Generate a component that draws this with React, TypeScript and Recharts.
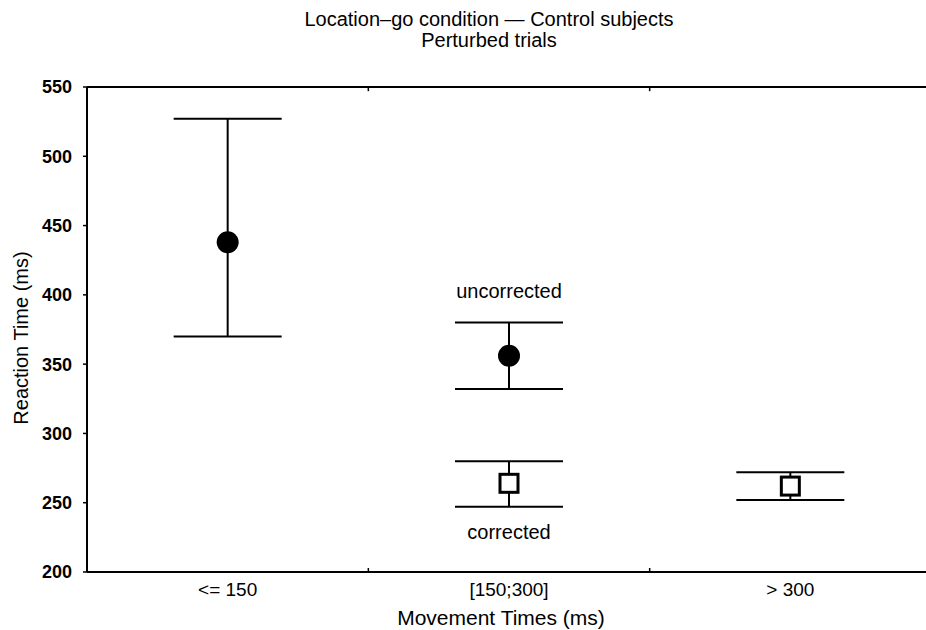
import {
  ComposedChart,
  Scatter,
  XAxis,
  YAxis,
  ErrorBar,
  ReferenceDot,
  ReferenceLine,
} from "recharts";

// movement time bins on the x axis
const categories = ["<= 150", "[150;300]", "> 300"];
const yTicks = [200, 250, 300, 350, 400, 450, 500, 550];

// uncorrected trials (filled circles)
const uncorrectedBins = [0, 1];
const uncorrectedMean = [438, 356];
const uncorrectedLow = [370, 332];
const uncorrectedHigh = [527, 380];

// corrected trials (open squares)
const correctedBins = [1, 2];
const correctedMean = [264, 262];
const correctedLow = [247, 252];
const correctedHigh = [280, 272];

const font = "'Liberation Sans', Arial, Helvetica, sans-serif";

function rows(bins: number[], mean: number[], low: number[], high: number[]) {
  return bins.map((b, i) => ({
    x: b + 0.5,
    y: mean[i],
    err: [mean[i] - low[i], high[i] - mean[i]],
  }));
}

const uncorrected = rows(uncorrectedBins, uncorrectedMean, uncorrectedLow, uncorrectedHigh);
const corrected = rows(correctedBins, correctedMean, correctedLow, correctedHigh);

function XTick({ x, y, payload }: any) {
  const v = payload.value;
  if (Number.isInteger(v)) {
    return <line x1={x} x2={x} y1={y} y2={y - 4} stroke="#000" strokeWidth={1.5} />;
  }
  return (
    <text x={x} y={y + 24} textAnchor="middle" fontSize={19} fill="#000">
      {categories[Math.floor(v)]}
    </text>
  );
}

const Circle = ({ cx, cy }: any) => <circle cx={cx} cy={cy} r={11} fill="#000" />;
const Square = ({ cx, cy }: any) => (
  <rect x={cx - 9} y={cy - 9} width={18} height={18} fill="#fff" stroke="#000" strokeWidth={3} />
);
const Nothing = () => <g />;

export default function App() {
  return (
    <div
      style={{
        position: "fixed",
        left: 0,
        top: 0,
        width: 926,
        height: 630,
        overflow: "hidden",
        background: "#fff",
        fontFamily: font,
        color: "#000",
      }}
    >
      <div
        style={{
          position: "absolute",
          left: 0,
          top: 9,
          width: 978,
          textAlign: "center",
          fontSize: 20,
          lineHeight: "21px",
        }}
      >
        Location–go condition — Control subjects
        <br />
        Perturbed trials
      </div>

      <ComposedChart
        width={940}
        height={630}
        margin={{ top: 87, right: 9, bottom: 0, left: 0 }}
      >
        <XAxis
          dataKey="x"
          type="number"
          domain={[0, 3]}
          ticks={[0.5, 1, 1.5, 2, 2.5]}
          height={58}
          tickSize={0}
          tickMargin={0}
          tick={<XTick />}
          tickLine={false}
          axisLine={{ stroke: "#000", strokeWidth: 2 }}
        />
        <YAxis
          dataKey="y"
          type="number"
          domain={[200, 550]}
          ticks={yTicks}
          width={87}
          tickSize={4}
          tickMargin={11}
          tick={{ fill: "#000", fontSize: 18, fontWeight: 700 }}
          tickLine={{ stroke: "#000", strokeWidth: 1.5 }}
          axisLine={{ stroke: "#000", strokeWidth: 2 }}
        />

        {/* top frame line with the small bin separators */}
        <ReferenceLine y={550} stroke="#000" strokeWidth={2} ifOverflow="visible" />
        <ReferenceLine
          segment={[{ x: 1, y: 550 }, { x: 1, y: 547 }]}
          stroke="#000"
          strokeWidth={1.5}
        />
        <ReferenceLine
          segment={[{ x: 2, y: 550 }, { x: 2, y: 547 }]}
          stroke="#000"
          strokeWidth={1.5}
        />

        {/* error bars first so the markers sit on top */}
        <Scatter data={uncorrected} shape={<Nothing />} isAnimationActive={false}>
          <ErrorBar dataKey="err" direction="y" width={54} stroke="#000" strokeWidth={2} isAnimationActive={false} />
        </Scatter>
        <Scatter data={corrected} shape={<Nothing />} isAnimationActive={false}>
          <ErrorBar dataKey="err" direction="y" width={54} stroke="#000" strokeWidth={2} isAnimationActive={false} />
        </Scatter>
        <Scatter data={uncorrected} shape={<Circle />} isAnimationActive={false} />
        <Scatter data={corrected} shape={<Square />} isAnimationActive={false} />

        <ReferenceDot
          x={1.5}
          y={403}
          r={0}
          fill="none"
          stroke="none"
          label={{ value: "uncorrected", position: "center", fill: "#000", fontSize: 20 }}
        />
        <ReferenceDot
          x={1.5}
          y={229}
          r={0}
          fill="none"
          stroke="none"
          label={{ value: "corrected", position: "center", fill: "#000", fontSize: 20 }}
        />
      </ComposedChart>

      <div
        style={{
          position: "absolute",
          left: 21,
          top: 338,
          transform: "translate(-50%, -50%) rotate(-90deg)",
          whiteSpace: "nowrap",
          fontSize: 20,
          lineHeight: "20px",
        }}
      >
        Reaction Time (ms)
      </div>
      <div
        style={{
          position: "absolute",
          left: 501,
          top: 607,
          transform: "translateX(-50%)",
          whiteSpace: "nowrap",
          fontSize: 21,
          lineHeight: "21px",
        }}
      >
        Movement Times (ms)
      </div>
    </div>
  );
}
